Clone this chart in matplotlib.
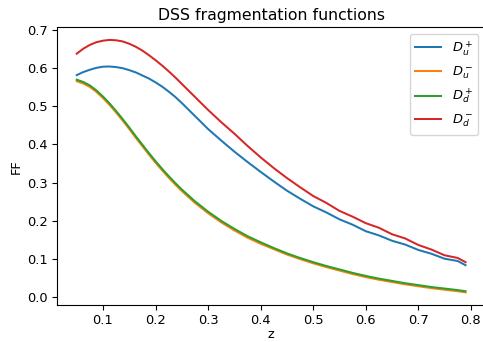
import matplotlib
matplotlib.use("Agg")
import matplotlib.pyplot as plt

z = [0.05, 0.0625, 0.075, 0.0875, 0.1, 0.1125, 0.125, 0.1375, 0.15, 0.1625,
     0.175, 0.1875, 0.2, 0.2125, 0.225, 0.2375, 0.25, 0.275,
     0.3, 0.325, 0.35, 0.375, 0.4, 0.425, 0.45, 0.475, 0.5, 0.525,
     0.55, 0.575, 0.6, 0.625, 0.65, 0.675, 0.7, 0.725, 0.75, 0.775, 0.79]

Du_plus = [0.581, 0.589, 0.595, 0.600, 0.603, 0.6035, 0.602, 0.599, 0.594, 0.588,
           0.580, 0.572, 0.562, 0.551, 0.538, 0.524, 0.508, 0.474,
           0.440, 0.410, 0.381, 0.354, 0.328, 0.303, 0.279, 0.258, 0.238, 0.222,
           0.204, 0.190, 0.173, 0.162, 0.148, 0.138, 0.124, 0.114, 0.101, 0.095, 0.084]

Dd_minus = [0.637, 0.650, 0.660, 0.667, 0.671, 0.673, 0.672, 0.669, 0.663, 0.655,
            0.645, 0.633, 0.620, 0.606, 0.591, 0.575, 0.558, 0.524,
            0.490, 0.458, 0.428, 0.396, 0.366, 0.338, 0.312, 0.288, 0.265, 0.247,
            0.226, 0.211, 0.194, 0.182, 0.165, 0.154, 0.137, 0.125, 0.110, 0.103, 0.092]

Dd_plus = [0.569, 0.563, 0.554, 0.541, 0.525, 0.507, 0.487, 0.466, 0.444, 0.421,
           0.399, 0.377, 0.356, 0.336, 0.317, 0.299, 0.282, 0.251,
           0.224, 0.200, 0.179, 0.160, 0.144, 0.129, 0.115, 0.103, 0.092, 0.082,
           0.073, 0.064, 0.056, 0.049, 0.043, 0.037, 0.032, 0.027, 0.023, 0.019, 0.016]

Du_minus = [0.565, 0.559, 0.550, 0.537, 0.521, 0.503, 0.483, 0.462, 0.440, 0.417,
            0.395, 0.373, 0.352, 0.332, 0.313, 0.295, 0.278, 0.247,
            0.220, 0.196, 0.175, 0.156, 0.140, 0.126, 0.112, 0.100, 0.089, 0.079,
            0.070, 0.061, 0.053, 0.046, 0.040, 0.034, 0.029, 0.024, 0.020, 0.016, 0.013]

labels = [r'$D_u^+$', r'$D_u^-$', r'$D_d^+$', r'$D_d^-$']

plt.rcParams.update({
    "font.size": 9.4,
    "axes.titlesize": 11.3,
    "lines.linewidth": 1.45,
    "xtick.major.size": 3.3,
    "ytick.major.size": 3.3,
    "xtick.major.pad": 3.3,
    "ytick.major.pad": 3.3,
    "axes.labelpad": 3.2,
    "axes.titlepad": 5.5,
})

fig = plt.figure(figsize=(4.83, 3.42), dpi=100)
ax = fig.add_axes([0.1186, 0.1082, 0.8855, 0.812])
ax.plot(z, Du_plus, label=labels[0])
ax.plot(z, Du_minus, label=labels[1])
ax.plot(z, Dd_plus, label=labels[2])
ax.plot(z, Dd_minus, label=labels[3])
ax.set_title("DSS fragmentation functions")
ax.set_xlabel("z", labelpad=0.8)
ax.set_ylabel("FF")
ax.legend(loc="upper right")
fig.savefig("out.png", dpi=100)
